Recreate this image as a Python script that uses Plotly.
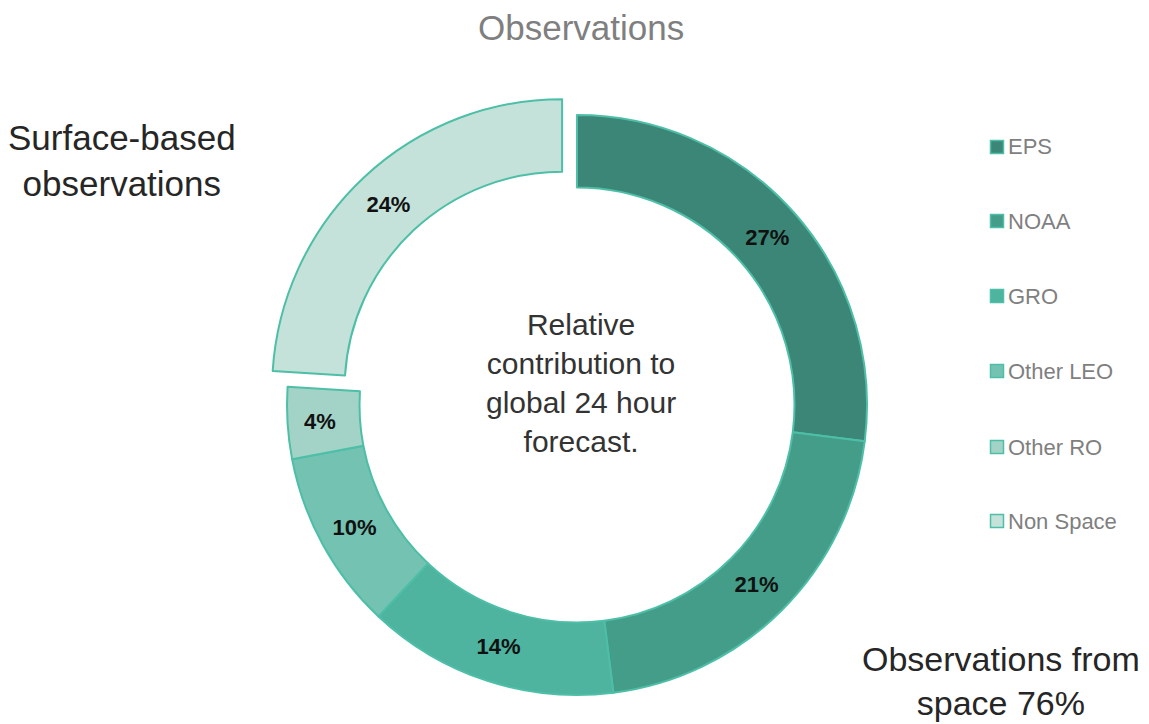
import plotly.graph_objects as go

categories = ["EPS", "NOAA", "GRO", "Other LEO", "Other RO", "Non Space"]
values = [27, 21, 14, 10, 4, 24]
pulls = [0, 0, 0, 0, 0, 0.075]
colors = ["#3b8676", "#449d89", "#4eb39f", "#74c2b1", "#a3d3c7", "#c4e2d9"]
border = "#4dbfa7"

W, H = 1149, 724
cx, cy = 577, 405
R = 290
half = R * (1 + max(pulls))
FONT = "Liberation Sans, Arial"

fig = go.Figure(go.Pie(
    labels=categories, values=values, pull=pulls, sort=False,
    direction="clockwise", rotation=0, hole=0.75,
    marker=dict(colors=colors, line=dict(color=border, width=2)),
    texttemplate="<b>%{percent:.0%}</b>", textposition="inside",
    insidetextorientation="horizontal",
    textfont=dict(family=FONT, size=22, color="#111111"),
    showlegend=False, hoverinfo="label+percent",
    domain=dict(x=[(cx - half) / W, (cx + half) / W],
                y=[(H - cy - half) / H, (H - cy + half) / H]),
))

ann = [
    dict(text="Observations", x=581, y=27, font=dict(size=35, color="#7f7f7f")),
    dict(text="Relative<br>contribution to<br>global 24 hour<br>forecast.", x=581, y=383,
         font=dict(size=30, color="#333333")),
    dict(text="Surface-based<br>observations", x=122, y=160,
         font=dict(size=35, color="#262626")),
    dict(text="Observations from<br>space 76%", x=1001, y=681,
         font=dict(size=34, color="#262626")),
]
annotations = []
for a in ann:
    annotations.append(dict(xref="paper", yref="paper", showarrow=False, xanchor="center",
                            yanchor="middle", text=a["text"], x=a["x"] / W, y=1 - a["y"] / H,
                            font=dict(family=FONT, **a["font"])))

shapes = []
leg_y = [147, 221, 296, 371, 447, 521]
for cat, col, yy in zip(categories, colors, leg_y):
    shapes.append(dict(type="rect", xref="paper", yref="paper",
                       x0=990.5 / W, x1=1003.5 / W, y0=1 - (yy + 6.5) / H, y1=1 - (yy - 6.5) / H,
                       fillcolor=col, line=dict(color=border, width=1.5)))
    annotations.append(dict(xref="paper", yref="paper", showarrow=False, xanchor="left",
                            yanchor="middle", x=1006 / W, y=1 - yy / H, text=cat,
                            font=dict(family=FONT, size=22, color="#7f7f7f")))

fig.update_layout(width=W, height=H, margin=dict(l=0, r=0, t=0, b=0),
                  paper_bgcolor="white", plot_bgcolor="white",
                  uniformtext=dict(minsize=22, mode="show"),
                  annotations=annotations, shapes=shapes)
fig.write_html("out.html", config=dict(displayModeBar=False),
               post_script="document.body.style.margin='0';document.body.style.overflow='hidden';")
